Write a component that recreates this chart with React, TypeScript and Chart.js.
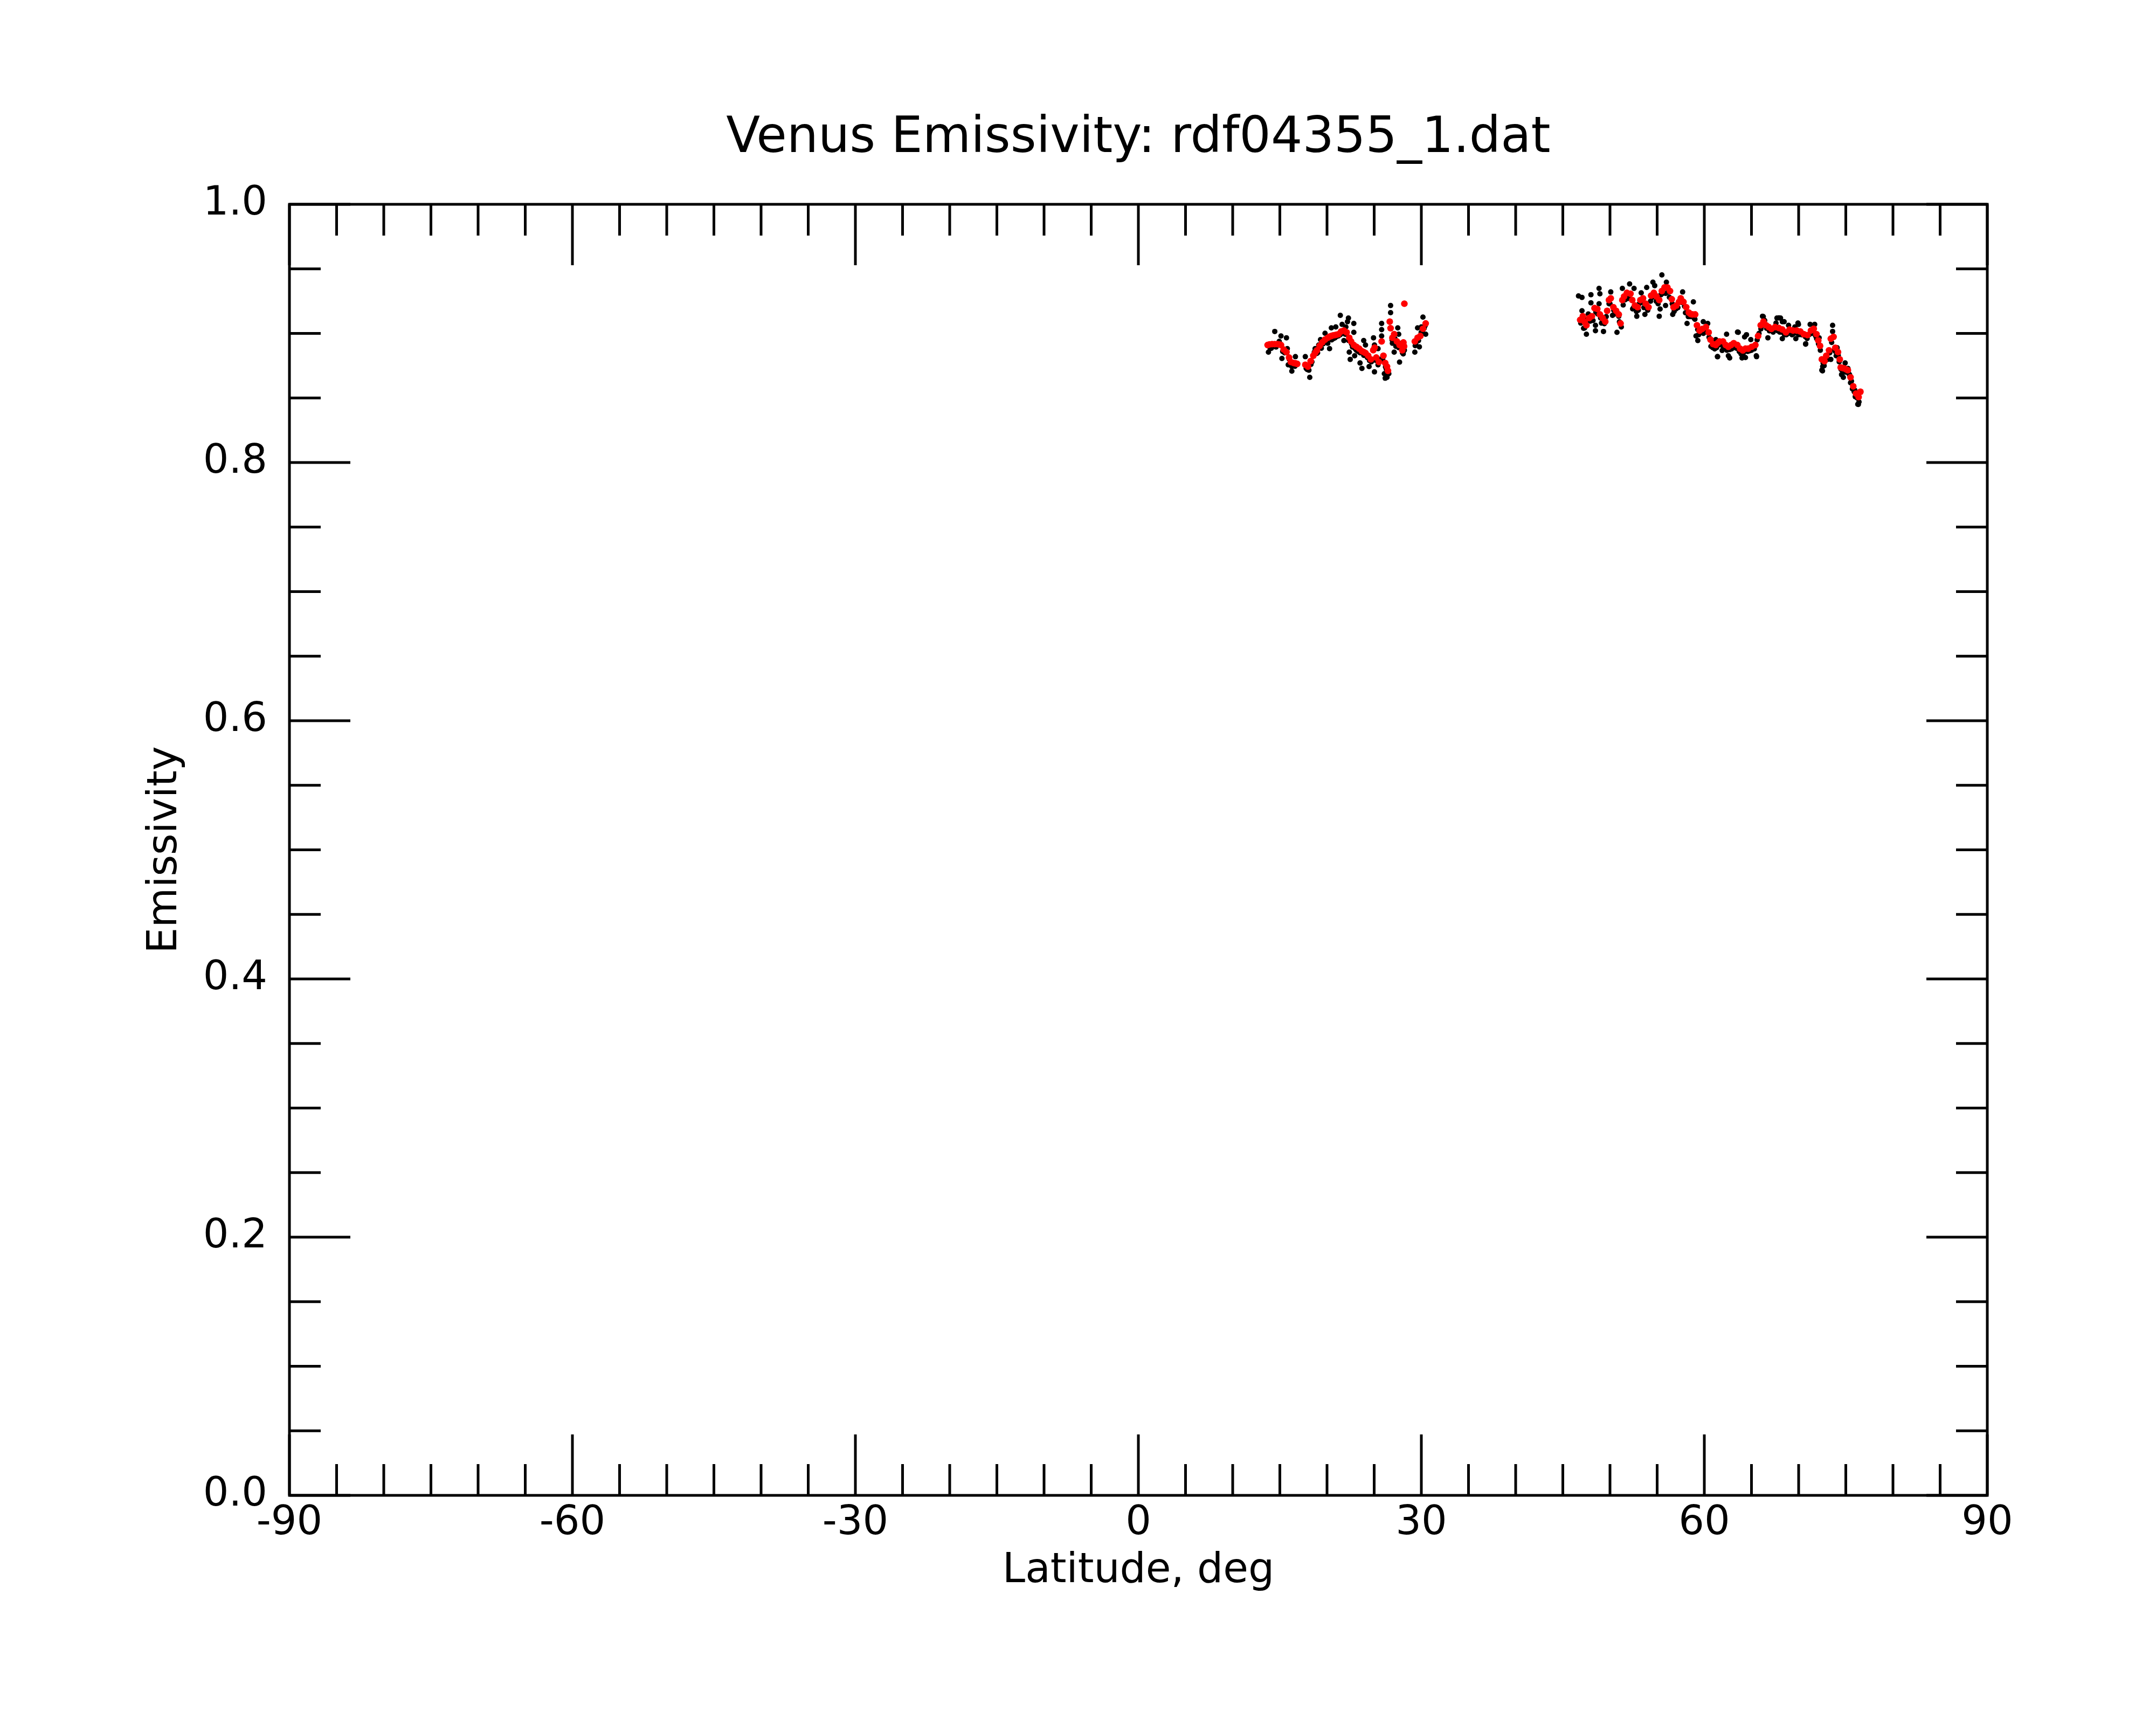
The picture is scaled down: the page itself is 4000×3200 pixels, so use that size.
import React, { useEffect, useRef } from 'react';
import { Chart, registerables } from 'chart.js';

Chart.register(...registerables);

const titleText = 'Venus Emissivity: rdf04355_1.dat';
const xTitle = 'Latitude, deg';
const yTitle = 'Emissivity';

const xTickValues = [-90, -60, -30, 0, 30, 60, 90];
const yTickValues = [0, 0.2, 0.4, 0.6, 0.8, 1.0];

// raw samples, 13-31 deg band  [latitude, emissivity]
const rawBandA: [number, number][] = [
  [13.79, 0.8855], [13.98, 0.8882], [14.1, 0.8885], [14.3, 0.89], [14.46, 0.9015], [14.6, 0.8895],
  [14.93, 0.8938], [15.12, 0.898], [15.22, 0.8806], [15.3, 0.886], [15.5, 0.885], [15.7, 0.8966],
  [15.79, 0.8882], [15.89, 0.8757], [16.0, 0.88], [16.1, 0.876], [16.27, 0.8708], [16.27, 0.8743],
  [16.6, 0.8745], [16.65, 0.882], [17.7, 0.882], [17.79, 0.8729], [17.9, 0.872], [18.08, 0.8715],
  [18.17, 0.866], [18.3, 0.876], [18.4, 0.878], [18.65, 0.8855], [18.74, 0.8882], [18.9, 0.8845],
  [19.0, 0.885], [19.12, 0.891], [19.31, 0.8952], [19.4, 0.8885], [19.6, 0.892], [19.79, 0.9001],
  [19.9, 0.8935], [20.08, 0.8924], [20.27, 0.8882], [20.3, 0.8955], [20.46, 0.9043], [20.5, 0.895],
  [20.7, 0.896], [20.84, 0.8966], [20.93, 0.905], [21.0, 0.8975], [21.2, 0.898], [21.4, 0.899],
  [21.41, 0.914], [21.6, 0.907], [21.79, 0.8945], [21.9, 0.8995], [21.98, 0.8994], [22.0, 0.905],
  [22.17, 0.9091], [22.27, 0.9119], [22.3, 0.8945], [22.36, 0.8855], [22.46, 0.8799], [22.6, 0.892],
  [22.7, 0.8895], [22.84, 0.9077], [22.84, 0.9008], [22.93, 0.8827], [23.0, 0.888], [23.12, 0.8869],
  [23.3, 0.886], [23.5, 0.8771], [23.5, 0.885], [23.7, 0.8729], [23.89, 0.8945], [23.9, 0.883],
  [24.08, 0.891], [24.2, 0.883], [24.27, 0.8813], [24.46, 0.8743], [24.5, 0.879], [24.7, 0.878],
  [24.93, 0.8966], [25.03, 0.891], [25.03, 0.8702], [25.2, 0.879], [25.41, 0.8882], [25.41, 0.8757],
  [25.6, 0.88], [25.79, 0.9077], [25.79, 0.9029], [25.79, 0.898], [25.9, 0.88], [26.08, 0.8688],
  [26.17, 0.8653], [26.2, 0.874], [26.3, 0.872], [26.36, 0.866], [26.55, 0.8688], [26.74, 0.9216],
  [26.74, 0.9161], [26.9, 0.895], [26.93, 0.8924], [27.12, 0.8855], [27.2, 0.896], [27.3, 0.89],
  [27.5, 0.9043], [27.6, 0.8994], [27.6, 0.889], [27.69, 0.8778], [27.88, 0.8924], [28.0, 0.885],
  [28.08, 0.8841], [28.2, 0.887], [29.31, 0.8855], [29.35, 0.8905], [29.41, 0.8924], [29.5, 0.895],
  [29.6, 0.9043], [29.7, 0.8945], [29.79, 0.8896], [29.98, 0.9008], [30.0, 0.905], [30.1, 0.901],
  [30.17, 0.9126], [30.3, 0.904], [30.4, 0.906], [30.46, 0.8994],
];

// raw samples, 46-77 deg band
const rawBandB: [number, number][] = [
  [46.66, 0.929], [46.9, 0.908], [47.03, 0.9279], [47.03, 0.9175], [47.2, 0.904], [47.31, 0.9042],
  [47.4, 0.911], [47.5, 0.8994], [47.7, 0.915], [47.9, 0.9095], [47.98, 0.93], [47.98, 0.9237],
  [48.2, 0.91], [48.46, 0.9021], [48.46, 0.9063], [48.5, 0.9165], [48.7, 0.915], [48.84, 0.9349],
  [48.84, 0.923], [48.93, 0.9307], [49.0, 0.912], [49.1, 0.908], [49.31, 0.9015], [49.4, 0.9075],
  [49.6, 0.913], [49.9, 0.923], [50.0, 0.923], [50.08, 0.9321], [50.27, 0.914], [50.4, 0.918],
  [50.5, 0.915], [50.74, 0.9008], [50.93, 0.9133], [51.0, 0.909], [51.2, 0.905], [51.31, 0.9349],
  [51.4, 0.922], [51.6, 0.926], [51.9, 0.927], [52.0, 0.9285], [52.08, 0.9383], [52.4, 0.919],
  [52.5, 0.92], [52.55, 0.9349], [52.8, 0.917], [52.84, 0.9133], [53.0, 0.918], [53.1, 0.923],
  [53.31, 0.9314], [53.4, 0.924], [53.6, 0.92], [53.7, 0.9147], [53.89, 0.9356], [53.9, 0.92],
  [54.0, 0.918], [54.3, 0.925], [54.5, 0.928], [54.55, 0.9397], [54.74, 0.937], [54.9, 0.925],
  [55.1, 0.923], [55.22, 0.9133], [55.31, 0.9189], [55.4, 0.93], [55.5, 0.9453], [55.6, 0.931],
  [55.89, 0.9216], [55.9, 0.931], [55.98, 0.9397], [56.2, 0.932], [56.3, 0.928], [56.6, 0.923],
  [56.65, 0.9147], [56.8, 0.917], [57.0, 0.919], [57.2, 0.92], [57.4, 0.9245], [57.6, 0.924],
  [57.7, 0.9321], [57.9, 0.921], [58.0, 0.916], [58.17, 0.9077], [58.3, 0.913], [58.5, 0.913],
  [58.84, 0.9244], [58.9, 0.912], [59.0, 0.911], [59.12, 0.898], [59.3, 0.903], [59.31, 0.8945],
  [59.4, 0.899], [59.7, 0.901], [59.89, 0.9091], [59.9, 0.9], [60.1, 0.902], [60.3, 0.901],
  [60.36, 0.9077], [60.5, 0.897], [60.7, 0.89], [60.9, 0.889], [61.1, 0.888], [61.22, 0.8952],
  [61.3, 0.889], [61.39, 0.882], [61.41, 0.882], [61.5, 0.891], [61.8, 0.891], [61.89, 0.8868],
  [62.0, 0.89], [62.2, 0.8885], [62.36, 0.8994], [62.4, 0.887], [62.55, 0.8827], [62.69, 0.881],
  [62.7, 0.8875], [62.9, 0.888], [63.0, 0.8895], [63.3, 0.889], [63.4, 0.8885], [63.52, 0.901],
  [63.6, 0.9008], [63.7, 0.886], [63.89, 0.8841], [63.9, 0.8855], [64.0, 0.881], [64.1, 0.884],
  [64.27, 0.8973], [64.3, 0.886], [64.36, 0.8813], [64.47, 0.899], [64.6, 0.886], [64.8, 0.8865],
  [64.93, 0.8952], [65.0, 0.887], [65.2, 0.8885], [65.3, 0.888], [65.51, 0.8827], [65.54, 0.882],
  [65.6, 0.895], [65.8, 0.9], [66.0, 0.9035], [66.1, 0.906], [66.17, 0.9133], [66.25, 0.913],
  [66.4, 0.91], [66.6, 0.904], [66.74, 0.8966], [66.9, 0.902], [67.0, 0.9025], [67.3, 0.901],
  [67.4, 0.9025], [67.6, 0.908], [67.7, 0.9119], [67.8, 0.902], [67.91, 0.912], [68.0, 0.901],
  [68.08, 0.9119], [68.2, 0.901], [68.27, 0.9091], [68.27, 0.8959], [68.46, 0.9091], [68.5, 0.899],
  [68.7, 0.899], [68.9, 0.9], [68.93, 0.9063], [69.1, 0.9005], [69.3, 0.899], [69.5, 0.9],
  [69.6, 0.905], [69.7, 0.8959], [69.9, 0.9], [69.93, 0.908], [69.98, 0.907], [70.0, 0.899],
  [70.3, 0.899], [70.4, 0.9], [70.7, 0.8975], [70.74, 0.8917], [70.75, 0.892], [70.9, 0.896],
  [71.1, 0.899], [71.22, 0.907], [71.4, 0.9], [71.5, 0.901], [71.7, 0.907], [71.8, 0.898],
  [71.9, 0.896], [72.1, 0.892], [72.17, 0.8966], [72.3, 0.887], [72.46, 0.8715], [72.53, 0.871],
  [72.55, 0.8743], [72.6, 0.877], [72.7, 0.875], [72.9, 0.88], [73.1, 0.88], [73.3, 0.885],
  [73.41, 0.8799], [73.5, 0.893], [73.6, 0.9063], [73.6, 0.9015], [73.8, 0.887], [73.9, 0.886],
  [73.98, 0.8827], [74.08, 0.8889], [74.2, 0.883], [74.3, 0.878], [74.5, 0.872], [74.55, 0.8681],
  [74.7, 0.87], [74.74, 0.866], [74.9, 0.871], [74.93, 0.8771], [75.0, 0.87], [75.22, 0.8729],
  [75.3, 0.869], [75.4, 0.868], [75.5, 0.8618], [75.6, 0.863], [75.7, 0.857], [75.89, 0.8548],
  [75.95, 0.856], [76.0, 0.851], [76.2, 0.85], [76.27, 0.8451], [76.33, 0.845], [76.4, 0.847],
];

// smoothed profile, 13-31 deg band
const smoothBandA: [number, number][] = [
  [13.7, 0.891], [13.9, 0.8915], [14.17, 0.8917], [14.45, 0.8917], [14.74, 0.8917], [14.95, 0.8915],
  [15.12, 0.891], [15.41, 0.8875], [15.7, 0.8855], [15.98, 0.8813], [16.17, 0.8778], [16.46, 0.8771],
  [16.65, 0.8768], [16.84, 0.8764], [17.7, 0.8757], [17.98, 0.8743], [18.27, 0.8785], [18.55, 0.8827],
  [18.75, 0.885], [18.93, 0.8869], [19.22, 0.8903], [19.5, 0.8931], [19.79, 0.8952], [20.08, 0.8966],
  [20.28, 0.8975], [20.46, 0.898], [20.65, 0.8985], [20.84, 0.8987], [21.02, 0.899], [21.22, 0.8994],
  [21.5, 0.9015], [21.79, 0.9022], [22.08, 0.9008], [22.36, 0.8966], [22.55, 0.8938], [22.84, 0.891],
  [23.12, 0.8896], [23.41, 0.8882], [23.7, 0.8862], [23.9, 0.8855], [24.08, 0.8848], [24.36, 0.8827],
  [24.65, 0.8799], [24.9, 0.887], [25.05, 0.889], [25.22, 0.8813], [25.5, 0.8778], [25.79, 0.8938],
  [25.98, 0.8827], [26.17, 0.8771], [26.36, 0.8743], [26.46, 0.871], [26.65, 0.9091], [26.74, 0.904],
  [26.93, 0.8966], [27.12, 0.8994], [27.41, 0.8938], [27.69, 0.891], [27.98, 0.8869], [28.1, 0.893],
  [28.17, 0.89], [28.2, 0.923], [29.31, 0.8938], [29.6, 0.8966], [29.89, 0.898], [30.17, 0.9036],
  [30.46, 0.9077],
];

// smoothed profile, 46-77 deg band
const smoothBandB: [number, number][] = [
  [46.84, 0.9105], [47.12, 0.9133], [47.3, 0.909], [47.5, 0.9063], [47.79, 0.9119], [48.08, 0.9133],
  [48.36, 0.9196], [48.65, 0.9189], [48.93, 0.9147], [49.22, 0.9119], [49.5, 0.9091], [49.7, 0.9175],
  [49.89, 0.9258], [50.08, 0.9272], [50.36, 0.9203], [50.65, 0.9175], [50.93, 0.9147], [51.12, 0.9077],
  [51.31, 0.9258], [51.5, 0.9286], [51.79, 0.9314], [52.17, 0.9307], [52.36, 0.9258], [52.65, 0.9216],
  [52.93, 0.9203], [53.22, 0.9258], [53.5, 0.9272], [53.79, 0.923], [54.08, 0.9203], [54.36, 0.9293],
  [54.65, 0.9314], [54.93, 0.9286], [55.22, 0.9258], [55.5, 0.9328], [55.79, 0.9356], [56.08, 0.9356],
  [56.36, 0.9328], [56.55, 0.9265], [56.74, 0.9203], [57.03, 0.9216], [57.31, 0.9244], [57.5, 0.9272],
  [57.79, 0.9244], [58.08, 0.9203], [58.36, 0.9161], [58.55, 0.915], [58.74, 0.9147], [59.03, 0.9147],
  [59.22, 0.9063], [59.5, 0.9021], [59.79, 0.9035], [60.17, 0.9049], [60.46, 0.9008], [60.65, 0.8952],
  [60.93, 0.8917], [61.22, 0.891], [61.42, 0.8925], [61.6, 0.8938], [61.98, 0.8938], [62.27, 0.891],
  [62.55, 0.8896], [62.84, 0.891], [63.12, 0.8924], [63.5, 0.891], [63.79, 0.8882], [64.08, 0.8868],
  [64.36, 0.8882], [64.65, 0.8882], [65.03, 0.8896], [65.41, 0.891], [65.7, 0.898], [65.98, 0.9063],
  [66.27, 0.9091], [66.55, 0.9063], [66.84, 0.9049], [67.12, 0.9035], [67.5, 0.9049], [67.89, 0.9042],
  [68.27, 0.903], [68.65, 0.9008], [69.03, 0.9029], [69.41, 0.9022], [69.79, 0.9022], [70.17, 0.9015],
  [70.55, 0.8994], [70.93, 0.8987], [71.31, 0.9022], [71.6, 0.9036], [71.89, 0.8994], [72.08, 0.8945],
  [72.27, 0.8903], [72.46, 0.8799], [72.74, 0.8785], [72.93, 0.8827], [73.22, 0.8869], [73.41, 0.8959],
  [73.7, 0.8973], [73.89, 0.8889], [74.17, 0.8855], [74.36, 0.8799], [74.46, 0.8736], [74.65, 0.8732],
  [74.84, 0.8729], [75.03, 0.8722], [75.22, 0.8715], [75.5, 0.866], [75.79, 0.859], [76.08, 0.8534],
  [76.36, 0.8507], [76.55, 0.8548],
];

const FONT = 'DejaVu Sans';

const toPoints = (rows: [number, number][]) => rows.map(([x, y]) => ({ x, y }));

// frame with inward major/minor ticks on all four sides, plus titles
const framePlugin = {
  id: 'frame',
  afterDraw(chart: Chart) {
    const { ctx, chartArea: a } = chart;
    const xs = chart.scales.x;
    const ys = chart.scales.y;
    ctx.save();
    ctx.strokeStyle = '#000';
    ctx.lineWidth = 5;
    ctx.lineCap = 'butt';
    ctx.beginPath();
    for (let i = 0; i <= 36; i++) {
      const px = xs.getPixelForValue(-90 + i * 5);
      const len = i % 6 === 0 ? 113 : 58;
      ctx.moveTo(px, a.bottom);
      ctx.lineTo(px, a.bottom - len);
      ctx.moveTo(px, a.top);
      ctx.lineTo(px, a.top + len);
    }
    for (let i = 0; i <= 20; i++) {
      const py = ys.getPixelForValue(i * 0.05);
      const len = i % 4 === 0 ? 113 : 58;
      ctx.moveTo(a.left, py);
      ctx.lineTo(a.left + len, py);
      ctx.moveTo(a.right, py);
      ctx.lineTo(a.right - len, py);
    }
    ctx.stroke();
    ctx.strokeRect(a.left, a.top, a.right - a.left, a.bottom - a.top);

    const cx = (a.left + a.right) / 2;
    ctx.fillStyle = '#000';
    ctx.textAlign = 'center';
    ctx.textBaseline = 'alphabetic';
    ctx.font = `92px "${FONT}"`;
    ctx.fillText(titleText, cx, a.top - 97);
    ctx.font = `76px "${FONT}"`;
    ctx.fillText(xTitle, cx, a.bottom + 161);
    ctx.translate(a.left - 210, (a.top + a.bottom) / 2);
    ctx.rotate(-Math.PI / 2);
    ctx.fillText(yTitle, 0, 0);
    ctx.restore();
  },
};

const EmissivityChart: React.FC = () => {
  const canvasRef = useRef<HTMLCanvasElement>(null);
  const chartRef = useRef<Chart | null>(null);

  useEffect(() => {
    if (!canvasRef.current) return;
    if (chartRef.current) chartRef.current.destroy();
    const ctx = canvasRef.current.getContext('2d');
    if (!ctx) return;

    chartRef.current = new Chart(ctx, {
      type: 'scatter',
      data: {
        datasets: [
          {
            label: 'smoothed',
            data: [...toPoints(smoothBandA), ...toPoints(smoothBandB)],
            pointRadius: 6.2,
            pointBorderWidth: 0,
            backgroundColor: '#ff0000',
            borderColor: '#ff0000',
          },
          {
            label: 'raw',
            data: [...toPoints(rawBandA), ...toPoints(rawBandB)],
            pointRadius: 5,
            pointBorderWidth: 0,
            backgroundColor: '#000000',
            borderColor: '#000000',
          },
        ],
      },
      options: {
        animation: false,
        responsive: false,
        devicePixelRatio: 1,
        layout: { padding: { left: 0, top: 379, right: 313, bottom: 0 } },
        plugins: {
          legend: { display: false },
          tooltip: { enabled: false },
          title: { display: false },
        },
        scales: {
          x: {
            type: 'linear',
            position: 'bottom',
            min: -90,
            max: 90,
            afterFit: (s: any) => {
              s.height = 426;
            },
            afterBuildTicks: (s: any) => {
              s.ticks = xTickValues.map((value) => ({ value }));
            },
            grid: { display: false, drawTicks: false },
            border: { display: false },
            ticks: {
              font: { family: FONT, size: 75 },
              color: '#000',
              padding: 8,
              maxRotation: 0,
              autoSkip: false,
              callback: (v: any) => String(v),
            },
          },
          y: {
            type: 'linear',
            position: 'left',
            min: 0,
            max: 1,
            afterFit: (s: any) => {
              s.width = 537;
            },
            afterBuildTicks: (s: any) => {
              s.ticks = yTickValues.map((value) => ({ value }));
            },
            grid: { display: false, drawTicks: false },
            border: { display: false },
            ticks: {
              font: { family: FONT, size: 75 },
              color: '#000',
              padding: 41,
              autoSkip: false,
              callback: (v: any) => Number(v).toFixed(1),
            },
          },
        },
      },
      plugins: [framePlugin],
    });

    return () => {
      if (chartRef.current) {
        chartRef.current.destroy();
        chartRef.current = null;
      }
    };
  }, []);

  return (
    <div style={{ position: 'absolute', left: 0, top: 0, width: 4000, height: 3200, background: '#fff' }}>
      <canvas ref={canvasRef} width={4000} height={3200} style={{ width: '4000px', height: '3200px' }}></canvas>
    </div>
  );
};

export default function App() {
  return <EmissivityChart />;
}
